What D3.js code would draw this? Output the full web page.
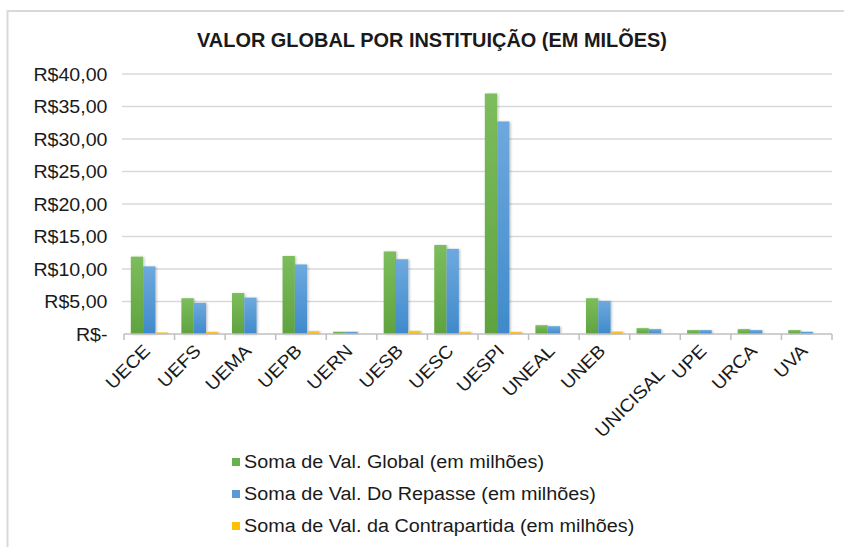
<!DOCTYPE html>
<html>
<head>
<meta charset="utf-8">
<script src="https://cdn.jsdelivr.net/npm/d3@7"></script>
<style>
html,body{margin:0;padding:0;background:#fff;}
svg{display:block;font-family:"Liberation Sans",Arial,sans-serif;}
</style>
</head>
<body>
<svg id="chart" width="844" height="547"></svg>
<script>
const categories = ["UECE","UEFS","UEMA","UEPB","UERN","UESB","UESC","UESPI","UNEAL","UNEB","UNICISAL","UPE","URCA","UVA"];
const seriesNames = ["Soma de Val. Global (em milhões)","Soma de Val. Do Repasse (em milhões)","Soma de Val. da Contrapartida (em milhões)"];
const valGlobal = [11.9, 5.5, 6.3, 12.0, 0.35, 12.7, 13.7, 37.0, 1.35, 5.5, 0.9, 0.6, 0.75, 0.6];
const valRepasse = [10.4, 4.8, 5.6, 10.7, 0.35, 11.5, 13.1, 32.7, 1.2, 5.1, 0.75, 0.6, 0.6, 0.35];
const valContrapartida = [0.25, 0.35, 0, 0.45, 0, 0.5, 0.35, 0.35, 0, 0.4, 0, 0, 0, 0];
const yTicks = [0, 5, 10, 15, 20, 25, 30, 35, 40];
const yTickLabels = ["R$-","R$5,00","R$10,00","R$15,00","R$20,00","R$25,00","R$30,00","R$35,00","R$40,00"];
const title = "VALOR GLOBAL POR INSTITUIÇÃO  (EM MILÕES)";

const seriesValues = [valGlobal, valRepasse, valContrapartida];
const colors = [
  {top:"#7cbd5c", bottom:"#5fa33f", solid:"#6ab04c"},
  {top:"#6ea9de", bottom:"#3f8acb", solid:"#5b9bd5"},
  {top:"#ffc94a", bottom:"#f5b800", solid:"#ffc000"}
];

const svg = d3.select("#chart");
const defs = svg.append("defs");
colors.forEach((c,i)=>{
  const g = defs.append("linearGradient").attr("id","grad"+i).attr("x1",0).attr("y1",0).attr("x2",0).attr("y2",1);
  g.append("stop").attr("offset","0%").attr("stop-color",c.top);
  g.append("stop").attr("offset","100%").attr("stop-color",c.bottom);
});
const f = defs.append("filter").attr("id","shadow").attr("x","-20%").attr("y","-5%").attr("width","150%").attr("height","115%");
f.append("feDropShadow").attr("dx",1.2).attr("dy",0.5).attr("stdDeviation",1).attr("flood-color","#000").attr("flood-opacity",0.25);

// chart border
svg.append("rect").attr("x",7.5).attr("y",11).attr("width",900).attr("height",600)
  .attr("fill","none").attr("stroke","#d9d9d9").attr("stroke-width",2);

// title
svg.append("text").attr("x",432).attr("y",47).attr("text-anchor","middle")
  .attr("font-size",19.5).attr("font-weight","bold").attr("fill","#1a1a1a")
  .attr("textLength",470).attr("lengthAdjust","spacingAndGlyphs")
  .text(title);

const x0 = d3.scaleBand().domain(categories).range([124, 832]).padding(0);
const x1 = d3.scaleBand().domain([0,1,2]).range([0, x0.bandwidth()]).paddingInner(0).paddingOuter(0.555);
const y = d3.scaleLinear().domain([0, 40]).range([334, 74]);

// gridlines
svg.append("g").selectAll("line").data(yTicks.filter(d=>d>0)).join("line")
  .attr("x1",122).attr("x2",832).attr("y1",d=>y(d)).attr("y2",d=>y(d))
  .attr("stroke","#d9d9d9").attr("stroke-width",1.5);

// y axis labels
const yAxis = d3.axisLeft(y).tickValues(yTicks).tickSize(0).tickPadding(0)
  .tickFormat((d,i)=>yTickLabels[i]);
const gy = svg.append("g").attr("transform","translate(107.5,0)").call(yAxis);
gy.select(".domain").remove();
gy.selectAll("text").attr("font-size",17.5).attr("fill","#1a1a1a").attr("font-family","'Liberation Sans',Arial,sans-serif")
  .attr("dy","0.35em").each(function(){
    const t=d3.select(this); const len=this.getComputedTextLength(); t.attr("textLength",len*1.12).attr("lengthAdjust","spacingAndGlyphs");
  });

// bars
const groups = svg.append("g").selectAll("g").data(categories).join("g")
  .attr("transform",d=>`translate(${x0(d)},0)`);
groups.selectAll("rect").data((d,ci)=>seriesValues.map((arr,si)=>({si, v:arr[ci]})).filter(o=>o.v>0)).join("rect")
  .attr("x",d=>x1(d.si)).attr("width",x1.bandwidth())
  .attr("y",d=>y(d.v)).attr("height",d=>y(0)-y(d.v))
  .attr("fill",d=>`url(#grad${d.si})`).attr("filter","url(#shadow)");

// x axis
const xAxis = d3.axisBottom(x0).tickSize(0).tickPadding(0);
const gx = svg.append("g").attr("transform",`translate(0,${y(0)})`).call(xAxis);
gx.select(".domain").attr("stroke","#bfbfbf").attr("stroke-width",1.5).attr("d",`M${x0.range()[0]},0H${x0.range()[1]}`);
svg.append("g").selectAll("line").data(d3.range(categories.length+1)).join("line")
  .attr("x1",i=>x0.range()[0]+i*x0.step()).attr("x2",i=>x0.range()[0]+i*x0.step())
  .attr("y1",y(0)).attr("y2",y(0)+6).attr("stroke","#bfbfbf").attr("stroke-width",1.5);
gx.selectAll(".tick text").attr("font-size",18).attr("fill","#1a1a1a").attr("font-family","'Liberation Sans',Arial,sans-serif")
  .attr("text-anchor","end").attr("dy",0).attr("y",0)
  .attr("transform",d=>`translate(${d.length>6?11:2},${d.length>6?41:18}) rotate(-45)`)
  .each(function(){ const len=this.getComputedTextLength(); d3.select(this).attr("textLength",len*1.08).attr("lengthAdjust","spacingAndGlyphs"); });

// legend
const legend = svg.append("g").selectAll("g").data(seriesNames).join("g")
  .attr("transform",(d,i)=>`translate(232,${462+i*32})`);
legend.append("rect").attr("x",0).attr("y",-4).attr("width",8).attr("height",8)
  .attr("fill",(d,i)=>colors[i].solid);
legend.append("text").attr("x",12).attr("y",0).attr("dy","0.35em")
  .attr("font-size",18).attr("fill","#1a1a1a").text(d=>d)
  .each(function(){ const len=this.getComputedTextLength(); d3.select(this).attr("textLength",len*1.1).attr("lengthAdjust","spacingAndGlyphs"); });
</script>
</body>
</html>
